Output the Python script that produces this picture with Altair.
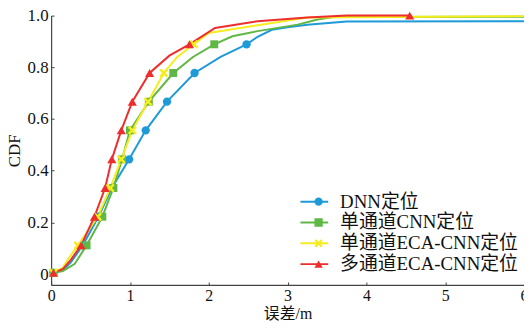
import altair as alt
import pandas as pd

names = ["DNN定位", "单通道CNN定位", "单通道ECA-CNN定位", "多通道ECA-CNN定位"]
colors = ["#1e9ad8", "#5fb846", "#f7ec1c", "#ee2e2e"]
xpath = "M-1,-0.6L-0.6,-1L0,-0.4L0.6,-1L1,-0.6L0.4,0L1,0.6L0.6,1L0,0.4L-0.6,1L-1,0.6L-0.4,0Z"
shapes = ["circle", "square", xpath, "triangle-up"]
sizes = [70, 64, 80, 85]

dnn_x = [0.03, 0.15, 0.25, 0.40, 0.60, 0.77, 0.99, 1.20, 1.47, 1.82, 2.15, 2.48, 2.62, 2.80, 3.00, 3.25, 3.75, 6.0]
dnn_y = [0.005, 0.015, 0.045, 0.111, 0.222, 0.333, 0.444, 0.556, 0.667, 0.778, 0.84, 0.889, 0.918, 0.945, 0.955, 0.965, 0.977, 0.978]
dnn_m = [0, 3, 4, 5, 6, 7, 8, 9, 11]

cnn_x = [0.03, 0.15, 0.30, 0.45, 0.65, 0.79, 0.90, 1.00, 1.24, 1.55, 1.80, 2.07, 2.30, 2.62, 3.13, 3.38, 3.60, 6.0]
cnn_y = [0.005, 0.012, 0.04, 0.111, 0.222, 0.333, 0.444, 0.556, 0.667, 0.778, 0.84, 0.889, 0.92, 0.94, 0.965, 0.985, 0.995, 0.996]
cnn_m = [0, 3, 4, 5, 6, 7, 8, 9, 11]

eca_x = [0.03, 0.15, 0.22, 0.34, 0.59, 0.75, 0.89, 1.03, 1.23, 1.43, 1.60, 1.81, 2.00, 2.62, 3.25, 6.0]
eca_y = [0.005, 0.025, 0.06, 0.111, 0.222, 0.333, 0.444, 0.556, 0.667, 0.778, 0.84, 0.889, 0.933, 0.963, 0.993, 0.998]
eca_m = [0, 3, 4, 5, 6, 7, 8, 9, 11]

mul_x = [0.03, 0.15, 0.25, 0.38, 0.55, 0.685, 0.77, 0.89, 1.03, 1.25, 1.50, 1.755, 2.08, 2.62, 3.25, 3.75, 4.55]
mul_y = [0.005, 0.02, 0.055, 0.111, 0.222, 0.333, 0.444, 0.556, 0.667, 0.778, 0.845, 0.889, 0.952, 0.978, 0.993, 1.0, 1.0]
mul_m = [0, 3, 4, 5, 6, 7, 8, 9, 11, 16]

x_ticks = [0, 1, 2, 3, 4, 5, 6]
y_ticks = [0, 0.2, 0.4, 0.6, 0.8, 1.0]

series = [(dnn_x, dnn_y, dnn_m), (cnn_x, cnn_y, cnn_m), (eca_x, eca_y, eca_m), (mul_x, mul_y, mul_m)]

line_rows, pt_rows = [], []
for k, (xs, ys, ms) in enumerate(series):
    for i, (a, b) in enumerate(zip(xs, ys)):
        line_rows.append({"x": a, "y": b, "series": names[k], "ord": k})
        if i in ms:
            pt_rows.append({"x": a, "y": b, "series2": names[k], "sz": sizes[k], "ord": k})
line_df = pd.DataFrame(line_rows)
pt_df = pd.DataFrame(pt_rows)

FONT = "Liberation Serif, Times New Roman, Noto Sans CJK SC"
W, H = 477, 271.7

xscale = alt.Scale(domain=[0, 6], nice=False)
yscale = alt.Scale(domain=[-0.042, 1.0], nice=False, zero=False)

# inward tick-only axes (drawn from the line layer)
x_in = alt.Axis(values=x_ticks, orient="top", offset=-H, labels=False, domain=False, grid=False,
                tickSize=3, tickColor="#444", title=None)
y_in = alt.Axis(values=y_ticks, orient="right", offset=-W, labels=False, domain=False, grid=False,
                tickSize=3, tickColor="#444", title=None)
# main axes (drawn from the point layer)
x_main = alt.Axis(values=x_ticks, format="d", title="误差/m", tickSize=0, labelFontSize=16,
                  labelPadding=3, titleY=28.5, titleBaseline="middle", titleFontSize=16)
y_main = alt.Axis(values=y_ticks, tickSize=0, labelPadding=3, titlePadding=4,
                  labelExpr="datum.value == 0 ? '0' : format(datum.value, '.1f')", title="CDF")

line_leg = alt.Legend(title=None, orient="none", legendX=250.5, legendY=177.5,
                      symbolType="stroke", symbolSize=784, symbolStrokeWidth=2,
                      clipHeight=20.4, padding=0, rowPadding=0, labelOffset=11,
                      labelFont=FONT, labelFontSize=19, labelColor="#111", labelLimit=300)
pt_leg = alt.Legend(title=None, orient="none", legendX=260.3, legendY=177.5,
                    symbolSize=70, symbolStrokeWidth=0, clipHeight=20.4, padding=0, rowPadding=0,
                    labelExpr="''", labelFontSize=19, labelFont=FONT)

lines = alt.Chart(line_df).mark_line(strokeWidth=2).encode(
    x=alt.X("x:Q", scale=xscale, axis=x_in),
    y=alt.Y("y:Q", scale=yscale, axis=y_in),
    color=alt.Color("series:N", scale=alt.Scale(domain=names, range=colors), legend=line_leg),
    order=alt.Order("x:Q"),
)
points = alt.Chart(pt_df).mark_point(filled=True, opacity=1).encode(
    x=alt.X("x:Q", axis=x_main),
    y=alt.Y("y:Q", axis=y_main),
    color=alt.Color("series2:N", scale=alt.Scale(domain=names, range=colors), legend=pt_leg),
    shape=alt.Shape("series2:N", scale=alt.Scale(domain=names, range=shapes), legend=pt_leg),
    size=alt.Size("sz:Q", scale=None),
    order=alt.Order("ord:Q"),
)

chart = alt.layer(lines, points).resolve_scale(
    color="independent", shape="independent"
).resolve_axis(x="independent", y="independent").properties(
    width=W, height=H,
    autosize=alt.AutoSizeParams(type="none"),
    padding={"left": 43.5, "top": 6.3, "right": 0, "bottom": 35.5},
).configure_view(stroke=None).configure_axis(
    labelFont=FONT, titleFont=FONT, labelFontSize=17, titleFontSize=17,
    labelColor="#111", titleColor="#111", titleFontWeight="normal",
    domainColor="#444", domainWidth=1.2,
    gridColor="#e6e6e6", gridDash=[2, 2], gridWidth=0.8,
).configure_axisX(labelFlush=False)

chart.save("out.html", embed_options={"renderer": "svg", "actions": False})
